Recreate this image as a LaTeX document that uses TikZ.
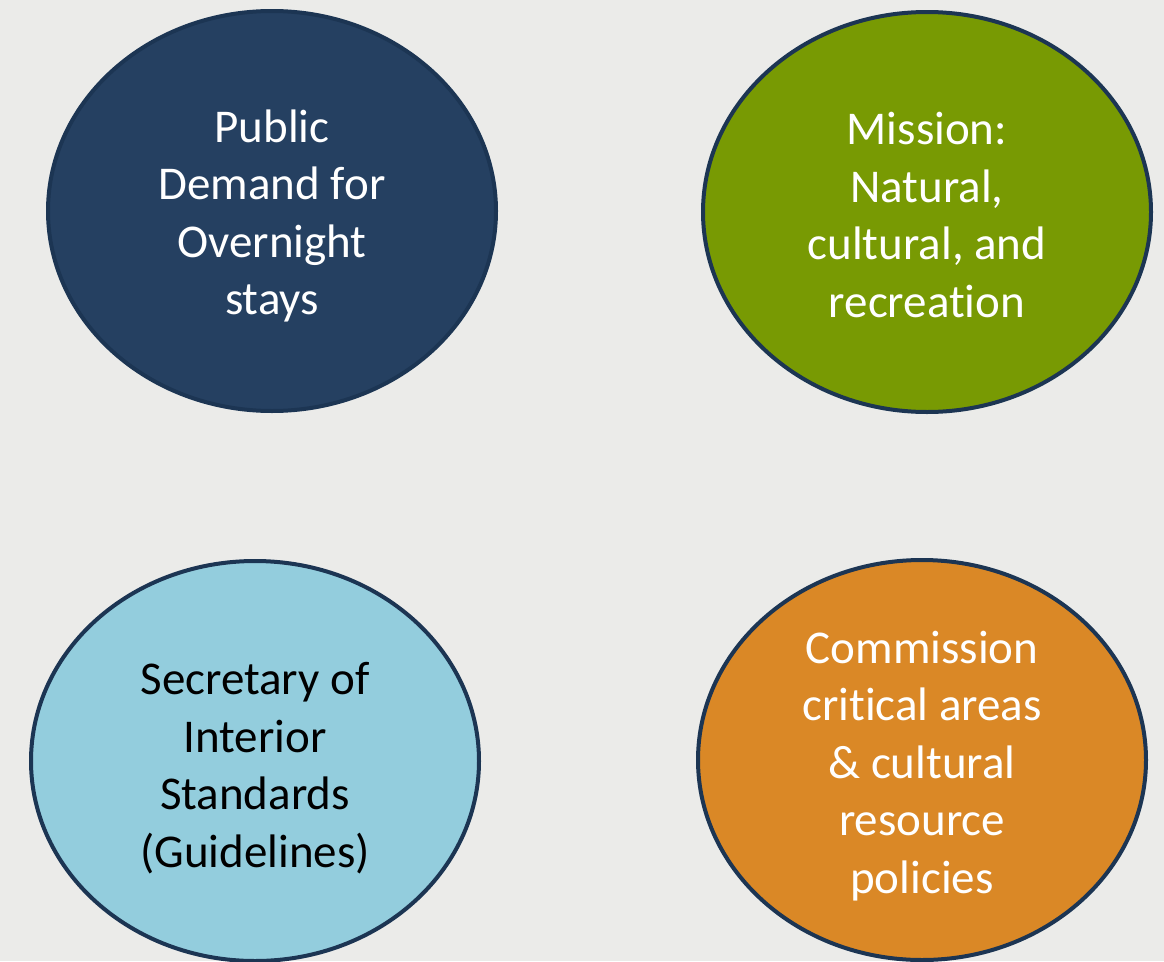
\documentclass[tikz,border=0pt]{standalone}
\usepackage{fontspec}
\setmainfont{Carlito}[RawFeature={-liga;-clig;-dlig;-calt}]
\usetikzlibrary{shapes.geometric}

\definecolor{bgGray}{HTML}{EBEBE9}
\definecolor{rimNavy}{HTML}{1C3553}
\definecolor{demandNavy}{HTML}{254061}
\definecolor{missionGreen}{HTML}{789A03}
\definecolor{standardsBlue}{HTML}{93CDDD}
\definecolor{policyOrange}{HTML}{DA8826}

\tikzset{
    topic/.style={ellipse, draw=rimNavy, line width=4pt, inner sep=0pt,
        minimum width=448pt, minimum height=400pt},
    topictext/.style={align=center, inner sep=0pt,
        font=\fontsize{47}{57.5}\selectfont},
}

\begin{document}
\begin{tikzpicture}[x=1pt, y=-1pt]
    \fill[bgGray] (0,0) rectangle (1164,961);
    \useasboundingbox (0,0) rectangle (1164,961);

    % the four ellipses
    \node[topic, fill=demandNavy] (demand) at (272,211) {};
    \node[topic, fill=missionGreen] (mission) at (927,212) {};
    \node[topic, fill=standardsBlue] (standards) at (255,761) {};
    \node[topic, fill=policyOrange] (policy) at (922,760) {};

    % their texts
    \node[topictext, text=white] (demandText) at ([yshift=-5pt]demand.center)
        {Public\\Demand for\\Overnight\\stays};
    \node[topictext, text=white] (missionText) at ([yshift=-3pt]mission.center)
        {Mission:\\Natural,\\cultural, and\\recreation};
    \node[topictext, text=black] (standardsText) at ([yshift=-7pt]standards.center)
        {Secretary of\\Interior\\Standards\\(Guidelines)};
    \node[topictext, text=white] (policyText) at ([yshift=-6pt]policy.center)
        {Commission\\critical areas\\\& cultural\\resource\\policies};
\end{tikzpicture}
\end{document}
